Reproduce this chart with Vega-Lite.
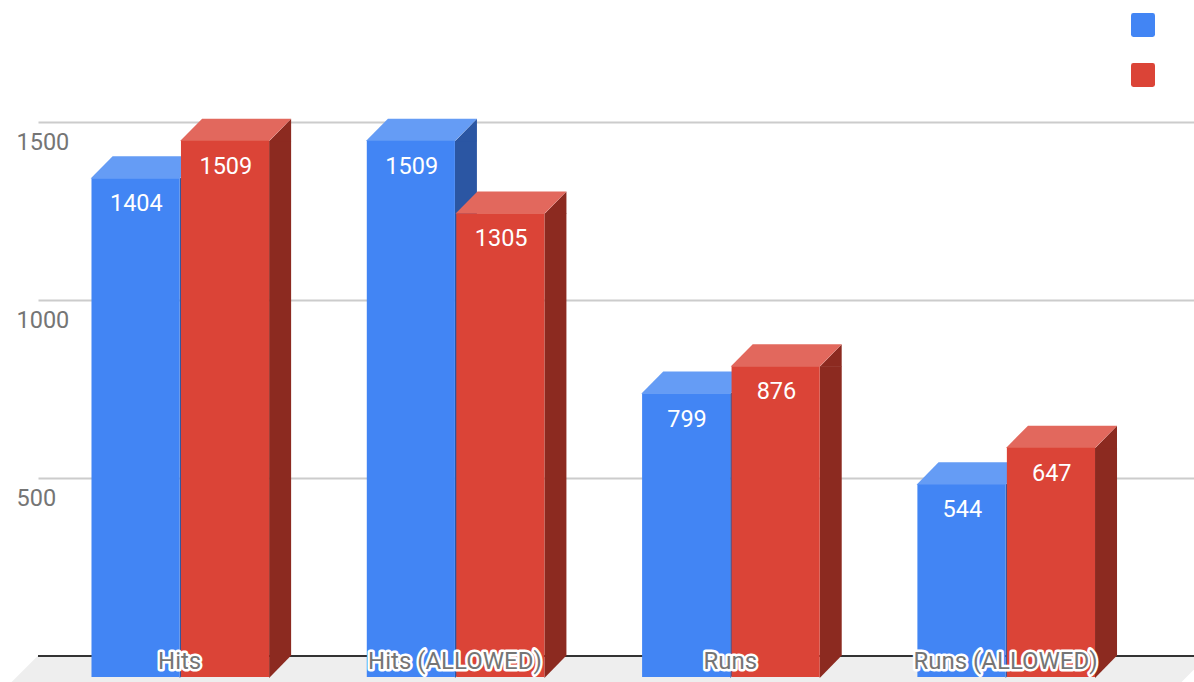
{
  "$schema": "https://vega.github.io/schema/vega-lite/v6.json",
  "width": 1156,
  "height": 682,
  "autosize": "none",
  "padding": {"left": 38, "top": 0, "right": 0, "bottom": 0},
  "background": "white",
  "config": {"view": {"stroke": null}, "font": "Roboto"},
  "data": {"values": [
    {"category": "Hits", "series": "Series 1", "value": 1404},
    {"category": "Hits", "series": "Series 2", "value": 1509},
    {"category": "Hits (ALLOWED)", "series": "Series 1", "value": 1509},
    {"category": "Hits (ALLOWED)", "series": "Series 2", "value": 1305},
    {"category": "Runs", "series": "Series 1", "value": 799},
    {"category": "Runs", "series": "Series 2", "value": 876},
    {"category": "Runs (ALLOWED)", "series": "Series 1", "value": 544},
    {"category": "Runs (ALLOWED)", "series": "Series 2", "value": 647}
  ]},
  "encoding": {
    "x": {"field": "category", "type": "nominal", "sort": null, "axis": null,
      "scale": {"type": "band", "paddingInner": 0.35, "paddingOuter": 0.2745, "align": 0.345}}
  },
  "resolve": {"scale": {"color": "independent"}},
  "layer": [
    {
      "transform": [{"filter": "datum.category === 'Hits' && datum.series === 'Series 1'"}],
      "mark": {"type": "point", "filled": true, "opacity": 1, "size": 4, "strokeWidth": 0, "color": "#eeeeee",
        "shape": "M-142,0 L1028,0 L1002,26 L-168,26 Z"},
      "encoding": {
        "y": {"datum": 0, "type": "quantitative",
          "scale": {"domain": [0, 1500], "range": [656, 122], "nice": false, "zero": false},
          "axis": {"values": [500, 1000, 1500], "format": "d", "title": null, "domain": false, "ticks": false,
            "grid": true, "gridColor": "#cccccc", "gridWidth": 2,
            "labelAlign": "left", "labelPadding": 22, "labelOffset": 20.5, "labelFontSize": 23.5,
            "labelFont": "Roboto", "labelColor": "#757575"}}
      }
    },
    {
      "mark": {"type": "rule", "color": "#333333", "strokeWidth": 2},
      "transform": [{"filter": "datum.category === 'Hits' && datum.series === 'Series 1'"}],
      "encoding": {"x": {"value": 0}, "x2": {"value": 1156}, "y": {"datum": 0, "type": "quantitative"}}
    },
    {
      "transform": [{"filter": "datum.series === 'Series 1'"}],
      "mark": {"type": "bar", "width": 22, "xOffset": 11, "yOffset": 22, "color": "#2b56a3"},
      "encoding": {
        "y": {"field": "value", "type": "quantitative", "stack": null},
        "y2": {"datum": 0}
      }
    },
    {
      "transform": [{"filter": "datum.series === 'Series 2'"}],
      "mark": {"type": "bar", "width": 22, "xOffset": 100.5, "yOffset": 22, "color": "#8c2a20"},
      "encoding": {
        "y": {"field": "value", "type": "quantitative", "stack": null},
        "y2": {"datum": 0}
      }
    },
    {
      "mark": {"type": "point", "filled": true, "opacity": 1, "size": 4, "strokeWidth": 0,
        "shape": "M44.75,22.5 L66.75,0 L66.75,22.5 Z"},
      "encoding": {
        "xOffset": {"field": "series", "type": "nominal", "scale": {"paddingInner": 0, "paddingOuter": 0}},
        "y": {"field": "value", "type": "quantitative"},
        "color": {"field": "series", "type": "nominal", "legend": null, "scale": {"range": ["#2b56a3", "#8c2a20"]}}
      }
    },
    {
      "mark": {"type": "point", "filled": true, "opacity": 1, "size": 4, "strokeWidth": 0,
        "shape": "M44.75,-0.5 L66.75,-0.5 L44.75,22 Z"},
      "encoding": {
        "xOffset": {"field": "series", "type": "nominal"},
        "y": {"datum": 0, "type": "quantitative"},
        "color": {"field": "series", "type": "nominal", "legend": null, "scale": {"range": ["#2b56a3", "#8c2a20"]}}
      }
    },
    {
      "mark": {"type": "point", "filled": true, "opacity": 1, "size": 4, "strokeWidth": 0,
        "shape": "M-44.25,22.3 L-22.25,0 L66.75,0 L44.75,22.3 Z"},
      "encoding": {
        "xOffset": {"field": "series", "type": "nominal"},
        "y": {"field": "value", "type": "quantitative"},
        "color": {"field": "series", "type": "nominal", "legend": null, "scale": {"range": ["#659cf5", "#e2685d"]}}
      }
    },
    {
      "mark": {"type": "bar", "yOffset": 22, "y2Offset": 21, "width": {"band": 0.985}},
      "encoding": {
        "xOffset": {"field": "series", "type": "nominal"},
        "y": {"field": "value", "type": "quantitative", "stack": null},
        "y2": {"datum": 0},
        "color": {"field": "series", "type": "nominal", "scale": {"range": ["#4285f4", "#db4437"]},
          "legend": {"orient": "none", "legendX": 1093, "legendY": 13, "title": null, "padding": 0,
            "symbolSize": 576, "symbolStrokeWidth": 0, "rowPadding": 26, "labelExpr": "''",
            "symbolType": "M-0.8,-1 H0.8 Q1,-1 1,-0.8 V0.8 Q1,1 0.8,1 H-0.8 Q-1,1 -1,0.8 V-0.8 Q-1,-1 -0.8,-1 Z"}}
      }
    },
    {
      "mark": {"type": "text", "font": "Roboto", "fontSize": 23.5, "color": "white", "yOffset": 48, "dx": 1.5, "baseline": "middle"},
      "encoding": {
        "xOffset": {"field": "series", "type": "nominal"},
        "y": {"field": "value", "type": "quantitative"},
        "text": {"field": "value", "type": "quantitative", "format": "d"}
      }
    },
    {
      "transform": [{"filter": "datum.series === 'Series 1'"}],
      "mark": {"type": "text", "font": "Roboto", "fontSize": 24, "color": "white", "stroke": "white", "strokeWidth": 5, "strokeJoin": "round", "yOffset": 6, "baseline": "middle"},
      "encoding": {
        "y": {"datum": 0, "type": "quantitative"},
        "text": {"field": "category", "type": "nominal"}
      }
    },
    {
      "transform": [{"filter": "datum.series === 'Series 1'"}],
      "mark": {"type": "text", "font": "Roboto", "fontSize": 24, "color": "#757575", "yOffset": 6, "baseline": "middle"},
      "encoding": {
        "y": {"datum": 0, "type": "quantitative"},
        "text": {"field": "category", "type": "nominal"}
      }
    }
  ]
}
